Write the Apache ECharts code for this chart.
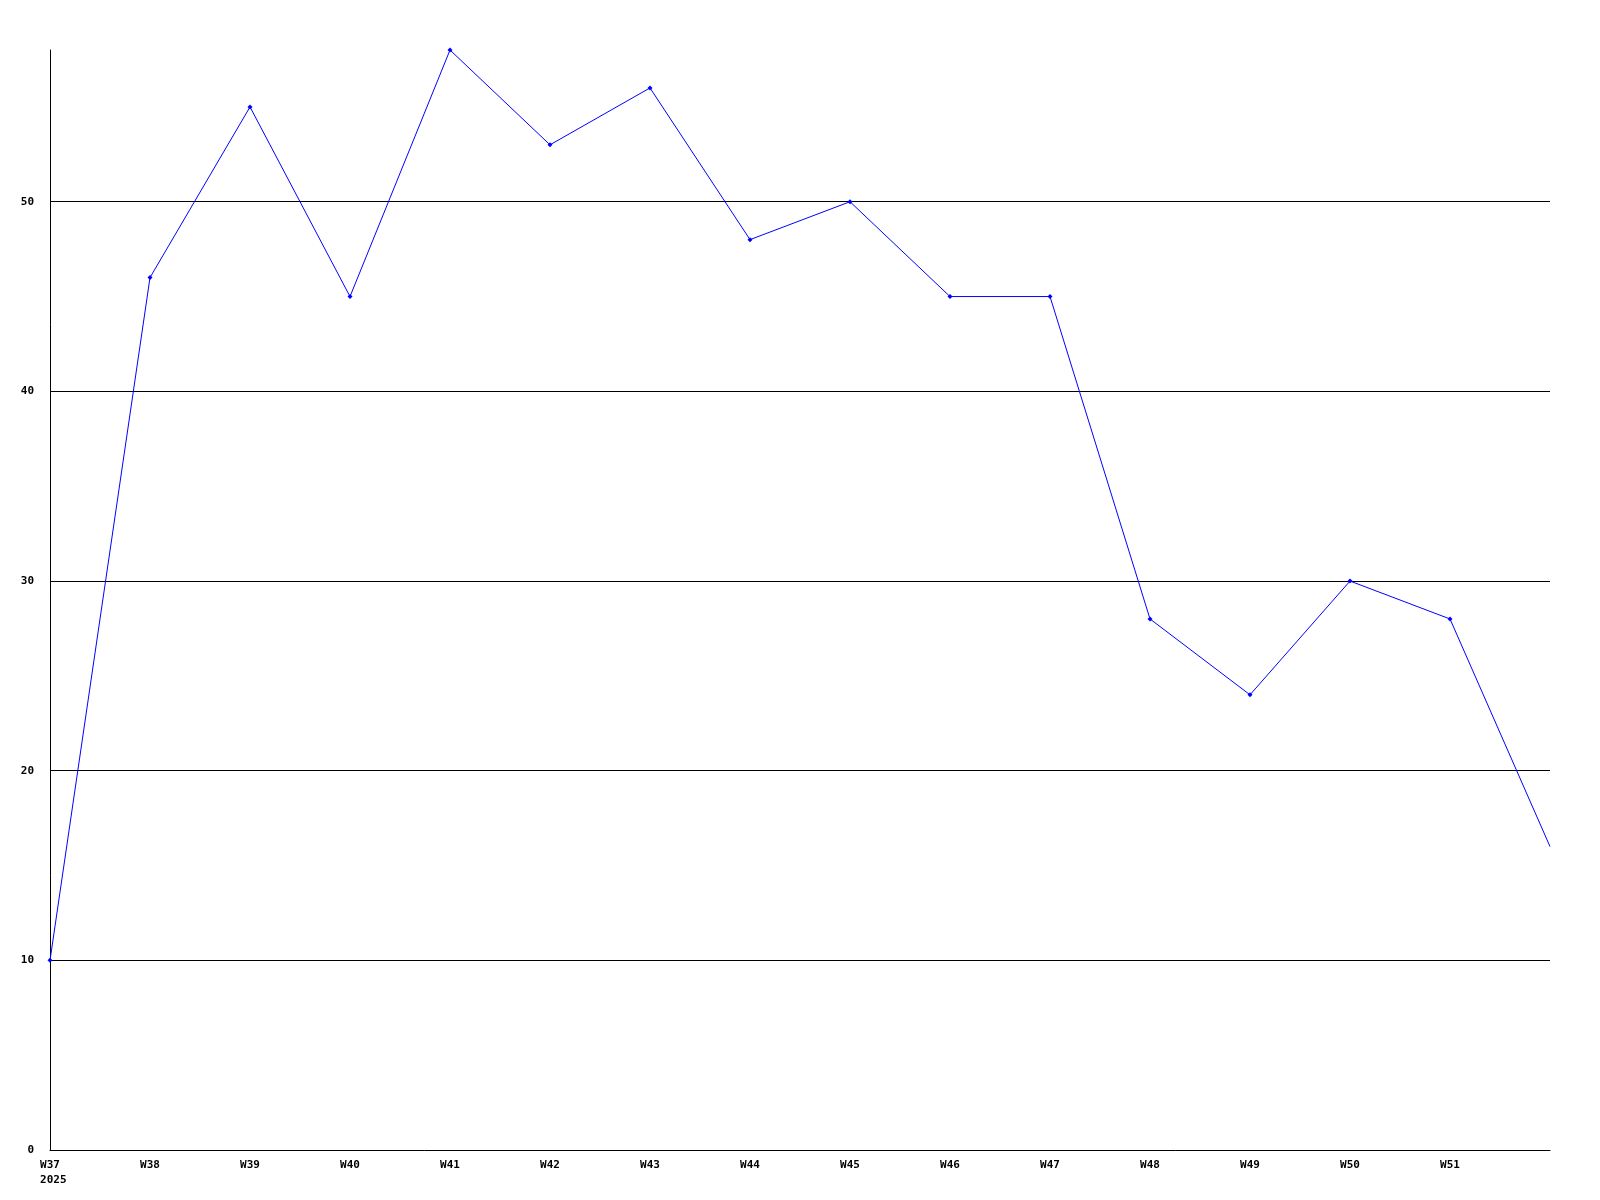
<!DOCTYPE html>
<html>
<head>
<meta charset="utf-8">
<script src="https://cdn.jsdelivr.net/npm/echarts@6/dist/echarts.min.js"></script>
<style>html,body{margin:0;padding:0;background:#fff;}#c{width:1600px;height:1200px;}</style>
</head>
<body>
<div id="c"></div>
<script>
const categories = ['W37','W38','W39','W40','W41','W42','W43','W44','W45','W46','W47','W48','W49','W50','W51','W52'];
const tickLabels = ['W37\n 2025','W38','W39','W40','W41','W42','W43','W44','W45','W46','W47','W48','W49','W50','W51',''];
const values = [10,46,55,45,58,53,56,48,50,45,45,28,24,30,28,16];

const chart = echarts.init(document.getElementById('c'), null, {renderer:'canvas'});
const font = {fontFamily:'DejaVu Sans Mono', fontWeight:'bold', fontSize:11, color:'#000'};
const seriesData = values.map((v,i)=> i === values.length-1 ? {value:v, symbol:'none'} : v);
chart.setOption({
  animation:false,
  backgroundColor:'#fff',
  grid:{left:50,right:50,top:50,bottom:50,containLabel:false},
  xAxis:{
    type:'category',
    data:categories,
    boundaryGap:false,
    axisLine:{lineStyle:{color:'#000',width:1}},
    axisTick:{show:false},
    axisLabel:Object.assign({interval:0,margin:8,lineHeight:15,formatter:(v,i)=>tickLabels[i]},font),
    splitLine:{show:false}
  },
  yAxis:{
    type:'value',
    min:0,max:58,interval:10,
    axisLine:{show:true,lineStyle:{color:'#000',width:1}},
    axisTick:{show:false},
    axisLabel:Object.assign({margin:16,showMaxLabel:false},font),
    splitLine:{show:true,showMinLine:false,showMaxLine:false,lineStyle:{color:'#000',width:1}}
  },
  series:[{
    type:'line',
    data:seriesData,
    symbol:'diamond',
    symbolSize:5,
    showAllSymbol:true,
    lineStyle:{color:'#0000ff',width:1},
    itemStyle:{color:'#0000ff'}
  }]
});
</script>
</body>
</html>
